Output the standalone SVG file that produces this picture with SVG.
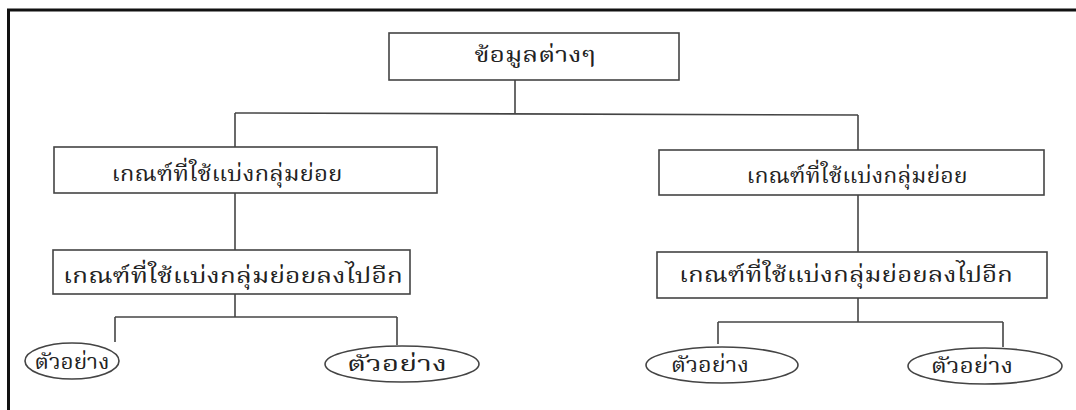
<svg xmlns="http://www.w3.org/2000/svg" width="1076" height="410" viewBox="0 0 1076 410">
  <style>
    .frame { stroke: #111; stroke-width: 3; fill: none; }
    .box { fill: #fff; stroke: #444; stroke-width: 1.6; }
    .oval { fill: #fff; stroke: #444; stroke-width: 1.6; }
    .wire { stroke: #444; stroke-width: 1.6; fill: none; }
    .lbl { font-family: "Liberation Serif", "Noto Serif Thai", "Noto Sans Thai", "DejaVu Serif", serif; font-size: 22px; fill: #222; text-anchor: middle; }
  </style>
  <rect width="1076" height="410" fill="#fff"/>

  <!-- outer frame: top and left rules only -->
  <path class="frame" d="M8.5 410 V10 H1076"/>

  <g id="connectors">
    <path class="wire" d="M515 80 V114"/>
    <path class="wire" d="M235 113 L858 115"/>
    <path class="wire" d="M235 113 V147"/>
    <path class="wire" d="M858 115 V150"/>
    <path class="wire" d="M235 193 V250"/>
    <path class="wire" d="M235 294 V317"/>
    <path class="wire" d="M115 317 H397"/>
    <path class="wire" d="M115 317 V342"/>
    <path class="wire" d="M397 317 V345"/>
    <path class="wire" d="M858 195 V252"/>
    <path class="wire" d="M858 298 V322"/>
    <path class="wire" d="M718 322 H1003"/>
    <path class="wire" d="M718 322 V344"/>
    <path class="wire" d="M1003 322 V347"/>
  </g>

  <g id="root">
    <rect class="box" x="389" y="33" width="290" height="47"/>
    <text class="lbl" x="535" y="62" textLength="121" lengthAdjust="spacingAndGlyphs">ข้อมูลต่างๆ</text>
  </g>

  <g id="criteria-left">
    <rect class="box" x="54" y="147" width="383" height="46"/>
    <text class="lbl" x="227" y="181" textLength="231" lengthAdjust="spacingAndGlyphs">เกณฑ์ที่ใช้แบ่งกลุ่มย่อย</text>
  </g>

  <g id="criteria-right">
    <rect class="box" x="659" y="150" width="385" height="45"/>
    <text class="lbl" x="857" y="183" textLength="221" lengthAdjust="spacingAndGlyphs">เกณฑ์ที่ใช้แบ่งกลุ่มย่อย</text>
  </g>

  <g id="sub-left">
    <rect class="box" x="53" y="250" width="357" height="44"/>
    <text class="lbl" x="233" y="283" textLength="340" lengthAdjust="spacingAndGlyphs">เกณฑ์ที่ใช้แบ่งกลุ่มย่อยลงไปอีก</text>
  </g>

  <g id="sub-right">
    <rect class="box" x="657" y="252" width="390" height="46"/>
    <text class="lbl" x="846" y="282" textLength="334" lengthAdjust="spacingAndGlyphs">เกณฑ์ที่ใช้แบ่งกลุ่มย่อยลงไปอีก</text>
  </g>

  <g id="example-1">
    <ellipse class="oval" cx="72" cy="361" rx="47" ry="18"/>
    <text class="lbl" x="72" y="369" textLength="75" lengthAdjust="spacingAndGlyphs">ตัวอย่าง</text>
  </g>
  <g id="example-2">
    <ellipse class="oval" cx="402" cy="364" rx="77" ry="18"/>
    <text class="lbl" x="397" y="371" textLength="100" lengthAdjust="spacingAndGlyphs">ตัวอย่าง</text>
  </g>
  <g id="example-3">
    <ellipse class="oval" cx="722" cy="365" rx="76" ry="18"/>
    <text class="lbl" x="710" y="372" textLength="78" lengthAdjust="spacingAndGlyphs">ตัวอย่าง</text>
  </g>
  <g id="example-4">
    <ellipse class="oval" cx="985" cy="366" rx="77" ry="18"/>
    <text class="lbl" x="972" y="373" textLength="82" lengthAdjust="spacingAndGlyphs">ตัวอย่าง</text>
  </g>
</svg>
